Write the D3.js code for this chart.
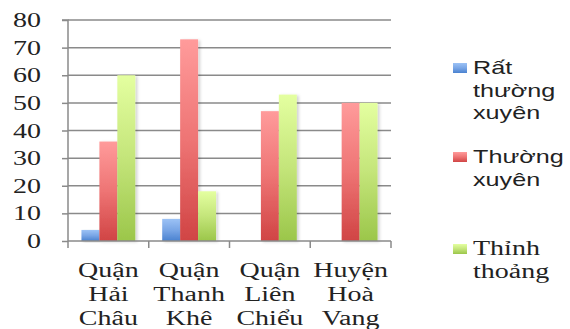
<!DOCTYPE html>
<html>
<head>
<meta charset="utf-8">
<script src="https://cdn.jsdelivr.net/npm/d3@7"></script>
<style>
  html, body { margin: 0; padding: 0; background: #fff; }
  svg { display: block; }
</style>
</head>
<body>
<svg id="chart" width="570" height="329"></svg>
<script>
// Districts (three-line labels) and survey frequency series
const categories = ["Quận Hải Châu", "Quận Thanh Khê", "Quận Liên Chiểu", "Huyện Hoà Vang"];
const categoryLines = [["Quận", "Hải", "Châu"], ["Quận", "Thanh", "Khê"], ["Quận", "Liên", "Chiểu"], ["Huyện", "Hoà", "Vang"]];
const seriesNames = ["Rất thường xuyên", "Thường xuyên", "Thỉnh thoảng"];
const rtx = [4, 8, 0, 0];        // Rất thường xuyên
const tx = [36, 73, 47, 50];     // Thường xuyên
const tt = [60, 18, 53, 50];     // Thỉnh thoảng
const yTicks = [0, 10, 20, 30, 40, 50, 60, 70, 80];

const seriesValues = [rtx, tx, tt];
const svg = d3.select("#chart");
const margin = { left: 68, right: 179, top: 20, bottom: 88 };
const W = 570, H = 329;
const sx = 1.4; // horizontal stretch applied to all text
const serif = "'Liberation Serif', 'DejaVu Serif', serif";
const sans = "'Liberation Sans', Arial, sans-serif";
const gridColor = "#8a8a8a";

const x = d3.scaleBand().domain(categories).range([margin.left, W - margin.right]).paddingInner(0).paddingOuter(0);
const x1 = d3.scaleBand().domain(seriesNames).range([0, x.bandwidth()]).paddingInner(0).paddingOuter(0.75);
const y = d3.scaleLinear().domain([0, 80]).range([H - margin.bottom, margin.top]);

// bar gradients
const defs = svg.append("defs");
const grads = [
  { id: "gBlue", top: "#9cc2f5", mid: "#79a6e6", bot: "#4a82d0" },
  { id: "gRed", top: "#ff9b9b", mid: "#ee7474", bot: "#d04444" },
  { id: "gGreen", top: "#e4ffa0", mid: "#c4e57a", bot: "#9bc64a" }
];
grads.forEach(g => {
  const lg = defs.append("linearGradient").attr("id", g.id)
    .attr("x1", 0).attr("y1", 0).attr("x2", 0).attr("y2", 1);
  lg.append("stop").attr("offset", "0%").attr("stop-color", g.top);
  lg.append("stop").attr("offset", "50%").attr("stop-color", g.mid);
  lg.append("stop").attr("offset", "100%").attr("stop-color", g.bot);
});
const shadow = defs.append("filter").attr("id", "shadow").attr("x", "-20%").attr("y", "-5%").attr("width", "160%").attr("height", "115%");
shadow.append("feDropShadow").attr("dx", 2).attr("dy", 1).attr("stdDeviation", 1.5).attr("flood-color", "#000").attr("flood-opacity", 0.18);

// gridlines
svg.append("g").selectAll("line").data(yTicks.filter(d => d > 0)).join("line")
  .attr("x1", margin.left).attr("x2", W - margin.right)
  .attr("y1", d => y(d)).attr("y2", d => y(d))
  .attr("stroke", gridColor).attr("stroke-width", 1.5);

// y axis (ticks and line)
const yAxis = svg.append("g").attr("transform", `translate(${margin.left},0)`)
  .call(d3.axisLeft(y).tickValues(yTicks).tickSize(6).tickFormat(""));
yAxis.select(".domain").attr("stroke", gridColor).attr("stroke-width", 1.5)
  .attr("d", `M-6,${y(80)}H0V${y(0) + 7}`);
yAxis.selectAll(".tick line").attr("stroke", gridColor).attr("stroke-width", 1.5);

// y tick labels, right-aligned
svg.append("g").selectAll("text").data(yTicks).join("text")
  .attr("transform", d => `translate(41,${y(d) + 7}) scale(${sx},1)`)
  .attr("text-anchor", "end")
  .attr("font-family", serif).attr("font-size", 20).attr("fill", "#222")
  .text(d => d);

// bars
const colors = ["url(#gBlue)", "url(#gRed)", "url(#gGreen)"];
const groups = svg.append("g").selectAll("g").data(categories).join("g")
  .attr("transform", d => `translate(${x(d)},0)`);
groups.selectAll("rect")
  .data((c, i) => seriesNames.map((s, k) => ({ s, k, v: seriesValues[k][i] })).filter(d => d.v > 0))
  .join("rect")
  .attr("x", d => x1(d.s)).attr("width", x1.bandwidth())
  .attr("y", d => y(d.v)).attr("height", d => y(0) - y(d.v))
  .attr("fill", d => colors[d.k]).attr("filter", "url(#shadow)");

// x axis
const xAxis = svg.append("g").attr("transform", `translate(0,${y(0)})`);
xAxis.append("line").attr("x1", margin.left).attr("x2", W - margin.right)
  .attr("stroke", gridColor).attr("stroke-width", 1.5);
const bounds = categories.map(c => x(c)).concat([x(categories[3]) + x.bandwidth()]);
xAxis.selectAll("line.tk").data(bounds.slice(1)).join("line").attr("class", "tk")
  .attr("x1", d => d).attr("x2", d => d).attr("y1", 0).attr("y2", 7)
  .attr("stroke", gridColor).attr("stroke-width", 1.5);

// category labels
categoryLines.forEach((lines, i) => {
  const cx = x(categories[i]) + x.bandwidth() / 2;
  lines.forEach((t, j) => {
    svg.append("text")
      .attr("transform", `translate(${cx},${277 + j * 24}) scale(${sx},1)`)
      .attr("text-anchor", "middle")
      .attr("font-family", serif).attr("font-size", 20)
      .attr("fill", "#222").text(t);
  });
});

// legend
const legendItems = [
  { lines: ["Rất", "thường", "xuyên"], y0: 74, font: sans, size: 18, k: 0 },
  { lines: ["Thường", "xuyên"], y0: 163, font: sans, size: 18, k: 1 },
  { lines: ["Thỉnh", "thoảng"], y0: 255, font: serif, size: 20, k: 2 }
];
legendItems.forEach(it => {
  svg.append("rect").attr("x", 453).attr("y", it.y0 - 11).attr("width", 14).attr("height", 10)
    .attr("fill", colors[it.k]);
  it.lines.forEach((t, j) => {
    svg.append("text")
      .attr("transform", `translate(473,${it.y0 + j * 22.5}) scale(${sx},1)`)
      .attr("font-family", it.font).attr("font-size", it.size)
      .attr("fill", "#222").text(t);
  });
});
</script>
</body>
</html>
